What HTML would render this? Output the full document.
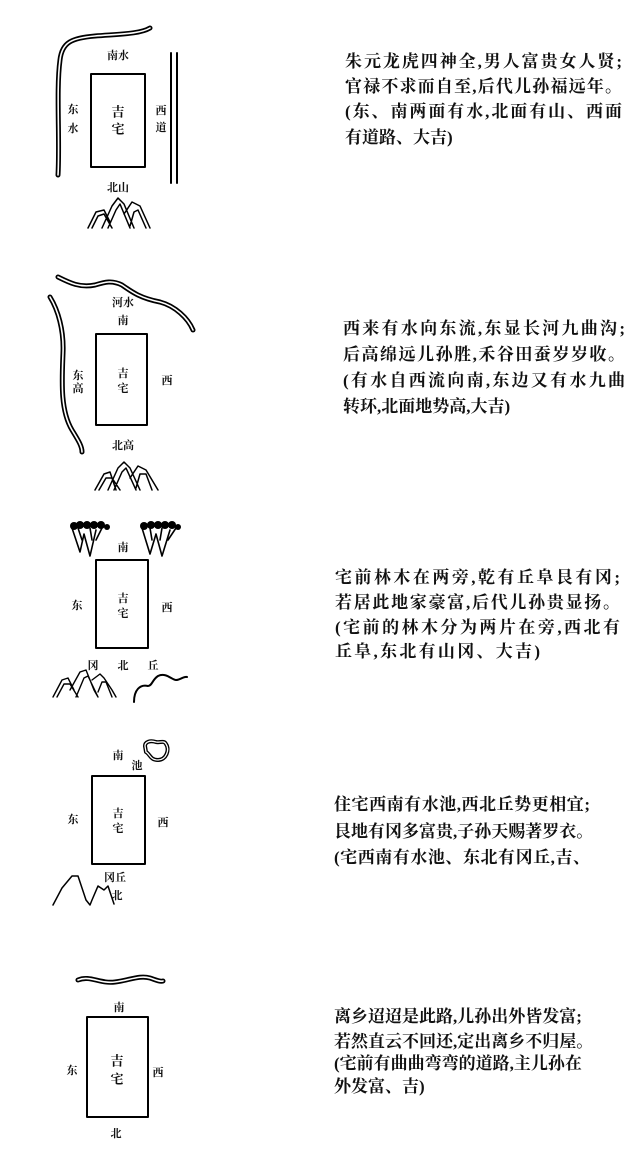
<!DOCTYPE html>
<html><head><meta charset="utf-8"><style>
html,body{margin:0;padding:0;background:#fff;}
body{width:640px;height:1156px;position:relative;overflow:hidden;font-family:"Liberation Serif","Noto Serif CJK SC","Noto Sans CJK SC",serif;color:#111;}
.l{position:absolute;height:20px;line-height:20px;font-size:17px;font-weight:bold;text-align:justify;text-align-last:justify;white-space:nowrap;}
svg{position:absolute;left:0;top:0;}
svg text{font-family:"Noto Serif CJK SC","Noto Sans CJK SC",serif;font-weight:bold;fill:#111;text-anchor:middle;dominant-baseline:central;}
</style></head><body>
<svg width="640" height="1156" viewBox="0 0 640 1156">
<g fill="none" stroke-linecap="round" stroke-linejoin="round">
<!-- D1 river -->
<path d="M58 175 C60 140 56 90 60 60 C62 42 72 38 95 36 C120 34 140 34 150 28" stroke="#000" stroke-width="5"/>
<path d="M58 175 C60 140 56 90 60 60 C62 42 72 38 95 36 C120 34 140 34 150 28" stroke="#fff" stroke-width="1.6"/>
<line x1="171" y1="53" x2="171" y2="183" stroke="#000" stroke-width="2"/>
<line x1="177" y1="53" x2="177" y2="183" stroke="#000" stroke-width="2"/>
<rect x="91" y="74" width="54" height="93" stroke="#000" stroke-width="2"/>
<path d="M88 228 L96 212 L104 210 L110 222 M92 228 L98 216 L104 214 L112 228 M102 228 L112 206 L118 198 L124 204 L134 228 M108 228 L116 210 L120 204 L130 228 M124 214 L132 202 L140 206 L150 228 M130 226 L134 212 L138 210 L146 228" stroke="#000" stroke-width="1.5"/>
<!-- D2 -->
<path d="M58 277 C70 283 80 288 95 285 C105 282 112 280 122 285 C132 292 140 298 160 302 C175 306 188 318 193 330" stroke="#000" stroke-width="5"/>
<path d="M58 277 C70 283 80 288 95 285 C105 282 112 280 122 285 C132 292 140 298 160 302 C175 306 188 318 193 330" stroke="#fff" stroke-width="1.6"/>
<path d="M50 297 C58 310 64 330 63 353 C62 380 60 410 72 430 C78 440 82 446 82 452" stroke="#000" stroke-width="5"/>
<path d="M50 297 C58 310 64 330 63 353 C62 380 60 410 72 430 C78 440 82 446 82 452" stroke="#fff" stroke-width="1.6"/>
<rect x="96" y="334" width="51" height="91" stroke="#000" stroke-width="2"/>
<path d="M95 490 L104 474 L110 472 L116 490 M99 490 L106 478 L112 478 L120 490 M108 490 L118 468 L124 462 L130 468 L140 490 M114 490 L122 472 L126 468 L136 490 M130 478 L138 466 L146 470 L158 490 M136 488 L140 474 L146 474 L152 490" stroke="#000" stroke-width="1.5"/>
<!-- D3 trees -->
<g stroke="#000" stroke-width="1.6">
<path d="M72 528 L80 552 L84 534 L90 556 L96 530 M78 528 L82 540 M90 528 L92 540 M102 528 L96 540"/>
<path d="M142 528 L150 554 L156 534 L162 556 L170 530 M150 528 L152 540 M162 528 L160 540 M176 528 L168 540"/>
</g>
<g fill="#000">
<ellipse cx="74" cy="526" rx="4" ry="4"/><ellipse cx="80" cy="525" rx="4" ry="4"/><ellipse cx="87" cy="525" rx="4" ry="4"/><ellipse cx="94" cy="525" rx="4" ry="4"/><ellipse cx="101" cy="525" rx="4" ry="4"/><ellipse cx="107" cy="527" rx="3" ry="3"/>
<ellipse cx="144" cy="526" rx="4" ry="4"/><ellipse cx="151" cy="525" rx="4" ry="4"/><ellipse cx="158" cy="525" rx="4" ry="4"/><ellipse cx="165" cy="525" rx="4" ry="4"/><ellipse cx="172" cy="525" rx="4" ry="4"/><ellipse cx="178" cy="527" rx="3" ry="3"/>
</g>
<rect x="96" y="560" width="52" height="88" stroke="#000" stroke-width="2"/>
<path d="M53 697 L62 680 L68 678 L74 690 M57 697 L64 684 L70 684 L78 697 M70 690 L80 672 L86 670 L94 690 L98 697 M76 697 L84 678 L88 676 L98 697 M92 680 L100 674 L104 678 L112 690 L116 697 M98 692 L102 682 L106 682 L112 697" stroke="#000" stroke-width="1.4"/>
<path d="M134 702 C134 690 140 684 148 686 C152 686 152 680 158 676 C166 672 172 680 176 680 C180 680 184 676 187 677" stroke="#000" stroke-width="2"/>
<!-- D4 -->
<path d="M145 746 C145 742 150 740 156 742 C160 743 164 740 166 744 C170 750 166 760 158 760 C150 760 150 754 146 752 Z" stroke="#000" stroke-width="4"/>
<path d="M145 746 C145 742 150 740 156 742 C160 743 164 740 166 744 C170 750 166 760 158 760 C150 760 150 754 146 752 Z" stroke="#fff" stroke-width="1.3"/>
<rect x="92" y="776" width="53" height="88" stroke="#000" stroke-width="2"/>
<path d="M53 905 L62 888 L72 876 L78 876 L86 900 L90 905 L92 900 L98 886 L104 890 L108 886 L114 904" stroke="#000" stroke-width="1.5"/>
<!-- D5 -->
<path d="M78 980 C90 975 100 984 115 982 C130 980 140 975 150 978 C156 980 160 982 163 981" stroke="#000" stroke-width="5"/>
<path d="M78 980 C90 975 100 984 115 982 C130 980 140 975 150 978 C156 980 160 982 163 981" stroke="#fff" stroke-width="1.6"/>
<rect x="87" y="1017" width="61" height="100" stroke="#000" stroke-width="2"/>
</g>
<g font-size="11">
<text x="118" y="55">南水</text>
<text x="73" y="109">东</text><text x="73" y="128">水</text>
<text x="118" y="111" font-size="13">吉</text><text x="118" y="128" font-size="13">宅</text>
<text x="161" y="110">西</text><text x="161" y="127">道</text>
<text x="118" y="187">北山</text>
<text x="123" y="302">河水</text><text x="123" y="320">南</text>
<text x="78" y="375">东</text><text x="78" y="388">高</text>
<text x="123" y="373">吉</text><text x="123" y="388">宅</text>
<text x="167" y="380">西</text><text x="123" y="445">北高</text>
<text x="123" y="547">南</text><text x="77" y="605">东</text>
<text x="123" y="598">吉</text><text x="123" y="613">宅</text>
<text x="167" y="607">西</text>
<text x="93" y="665">冈</text><text x="123" y="665">北</text><text x="153" y="665">丘</text>
<text x="118" y="755">南</text><text x="137" y="765">池</text>
<text x="73" y="819">东</text>
<text x="118" y="813">吉</text><text x="118" y="828">宅</text>
<text x="163" y="822">西</text><text x="115" y="877">冈丘</text><text x="117" y="895">北</text>
<text x="119" y="1007">南</text><text x="72" y="1070">东</text>
<text x="117" y="1060" font-size="13">吉</text><text x="117" y="1078" font-size="13">宅</text>
<text x="158" y="1072">西</text><text x="116" y="1133">北</text>
</g>
</svg>
<div class="l" style="left:345px;top:52px;width:277px">朱元龙虎四神全,男人富贵女人贤;</div>
<div class="l" style="left:345px;top:77px;width:277px">官禄不求而自至,后代儿孙福远年。</div>
<div class="l" style="left:345px;top:102px;width:277px">(东、南两面有水,北面有山、西面</div>
<div class="l" style="left:345px;top:128px;width:92px">有道路、大吉)</div>

<div class="l" style="left:343px;top:319px;width:282px">西来有水向东流,东显长河九曲沟;</div>
<div class="l" style="left:343px;top:345px;width:282px">后高绵远儿孙胜,禾谷田蚕岁岁收。</div>
<div class="l" style="left:343px;top:371px;width:282px">(有水自西流向南,东边又有水九曲</div>
<div class="l" style="left:343px;top:397px;width:140px">转环,北面地势高,大吉)</div>

<div class="l" style="left:335px;top:568px;width:285px">宅前林木在两旁,乾有丘阜艮有冈;</div>
<div class="l" style="left:335px;top:593px;width:285px">若居此地家豪富,后代儿孙贵显扬。</div>
<div class="l" style="left:335px;top:618px;width:285px">(宅前的林木分为两片在旁,西北有</div>
<div class="l" style="left:335px;top:642px;width:205px">丘阜,东北有山冈、大吉)</div>

<div class="l" style="left:334px;top:795px;width:256px">住宅西南有水池,西北丘势更相宜;</div>
<div class="l" style="left:334px;top:822px;width:256px">艮地有冈多富贵,子孙天赐著罗衣。</div>
<div class="l" style="left:334px;top:848px;width:256px">(宅西南有水池、东北有冈丘,吉、</div>

<div class="l" style="left:334px;top:1007px;width:246px">离乡迢迢是此路,儿孙出外皆发富;</div>
<div class="l" style="left:334px;top:1032px;width:246px">若然直云不回还,定出离乡不归屋。</div>
<div class="l" style="left:334px;top:1054px;width:246px">(宅前有曲曲弯弯的道路,主儿孙在</div>
<div class="l" style="left:334px;top:1077px;width:88px">外发富、吉)</div>
</body></html>
